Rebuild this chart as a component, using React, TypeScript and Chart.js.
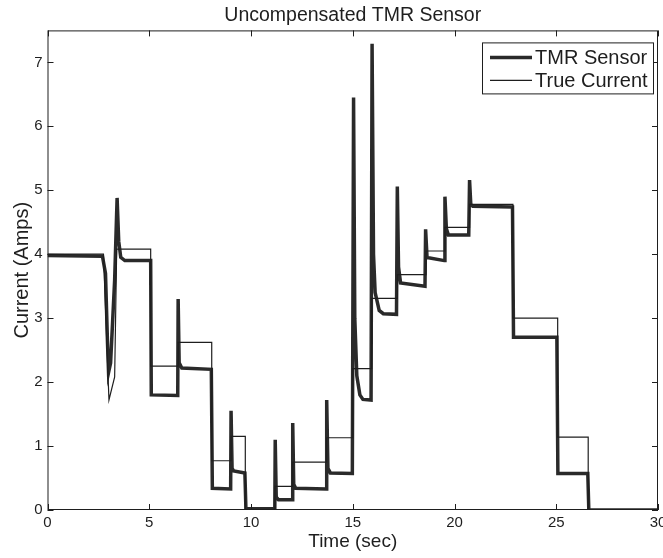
import React, { useEffect, useRef } from "react";
import { Chart, registerables } from "chart.js";

Chart.register(...registerables);

const chartTitle = "Uncompensated TMR Sensor";
const xTitle = "Time (sec)";
const yTitle = "Current (Amps)";
const seriesLabels = ["TMR Sensor", "True Current"];

const xTicks = [0, 5, 10, 15, 20, 25, 30];
const yTicks = [0, 1, 2, 3, 4, 5, 6, 7];

// TMR sensor output (seconds, amps)
const tmrTime = [
  0, 2.7, 2.85, 2.95, 3.0, 3.1, 3.3, 3.42, 3.5, 3.6, 3.8, 5.07,
  5.1, 6.4, 6.42, 6.47, 6.6, 8.05,
  8.1, 9.0, 9.02, 9.07, 9.15, 9.7,
  9.75, 11.17, 11.19, 11.24, 11.35, 12.03,
  12.05, 12.1, 12.2, 13.7, 13.72, 13.78, 13.9, 14.98,
  15.04, 15.1, 15.2, 15.35, 15.5, 15.9,
  15.95, 16.02, 16.1, 16.3, 16.5, 17.15,
  17.19, 17.25, 17.35, 18.55, 18.58, 18.65, 19.5,
  19.53, 19.6, 19.7, 20.7, 20.74, 20.8, 20.9, 22.85,
  22.9, 25.03, 25.08, 26.55, 26.6, 30,
];
const tmrCurrent = [
  3.98, 3.97, 3.7, 2.6, 2.15, 2.3, 3.6, 4.88, 4.2, 3.95, 3.9, 3.9,
  1.8, 1.79, 3.3, 2.3, 2.22, 2.2,
  0.34, 0.33, 1.55, 0.65, 0.61, 0.58,
  0.02, 0.02, 1.1, 0.2, 0.16, 0.16,
  1.36, 0.4, 0.34, 0.33, 1.72, 0.65, 0.58, 0.57,
  6.45, 3.0, 2.1, 1.8, 1.73, 1.72,
  7.29, 4.0, 3.4, 3.12, 3.07, 3.06,
  5.06, 3.8, 3.55, 3.5, 4.39, 3.95, 3.9,
  4.9, 4.4, 4.3, 4.3, 5.16, 4.78, 4.75, 4.74,
  2.7, 2.7, 0.57, 0.57, 0.0, 0.0,
];

// True current (seconds, amps)
const trueTime = [
  0, 2.75, 3.02, 3.3, 3.4, 5.07, 5.07, 6.42, 6.42, 8.07, 8.07, 9.02, 9.02,
  9.72, 9.72, 11.18, 11.18, 12.05, 12.05, 13.72, 13.72, 15.0, 15.0, 15.93,
  15.93, 17.19, 17.19, 18.6, 18.6, 19.53, 19.53, 20.74, 20.74, 22.87, 22.87,
  25.07, 25.07, 26.57, 26.57, 30,
];
const trueCurrent = [
  4.0, 4.0, 1.72, 2.08, 4.08, 4.08, 2.25, 2.25, 2.62, 2.62, 0.77, 0.77, 1.15,
  1.15, 0.0, 0.0, 0.37, 0.37, 0.75, 0.75, 1.13, 1.13, 2.21, 2.21,
  3.31, 3.31, 3.68, 3.68, 4.05, 4.05, 4.42, 4.42, 4.78, 4.78, 3.0,
  3.0, 1.14, 1.14, 0.0, 0.0,
];

const INK = "#1e1e1e";
const FONT = "'Liberation Sans', Arial, Helvetica, sans-serif";

const framePlugin = {
  id: "matlabFrame",
  afterDatasetsDraw(chart: any) {
    const { ctx, chartArea: a, scales } = chart;
    ctx.save();
    ctx.strokeStyle = INK;
    ctx.lineWidth = 1;
    ctx.strokeRect(a.left + 0.5, a.top + 0.5, a.right - a.left - 1, a.bottom - a.top - 1);
    const tl = 6;
    ctx.beginPath();
    for (const v of xTicks) {
      const px = Math.round(scales.x.getPixelForValue(v)) + 0.5;
      ctx.moveTo(px, a.bottom);
      ctx.lineTo(px, a.bottom - tl);
      ctx.moveTo(px, a.top);
      ctx.lineTo(px, a.top + tl);
    }
    for (const v of yTicks) {
      const py = Math.round(scales.y.getPixelForValue(v)) + 0.5;
      ctx.moveTo(a.left, py);
      ctx.lineTo(a.left + tl, py);
      ctx.moveTo(a.right, py);
      ctx.lineTo(a.right - tl, py);
    }
    ctx.stroke();

    // legend box
    const bw = 171;
    const bh = 51;
    const bx = a.right - 5 - bw;
    const by = a.top + 12;
    ctx.fillStyle = "#fff";
    ctx.fillRect(bx, by, bw, bh);
    ctx.strokeRect(bx + 0.5, by + 0.5, bw, bh);
    const ds = chart.data.datasets;
    const rows = [ds[0], ds[1]];
    rows.forEach((d: any, i: number) => {
      const cy = by + 15 + i * 23;
      ctx.beginPath();
      ctx.strokeStyle = d.borderColor;
      ctx.lineWidth = d.borderWidth;
      ctx.moveTo(bx + 8, cy);
      ctx.lineTo(bx + 50, cy);
      ctx.stroke();
      ctx.fillStyle = INK;
      ctx.font = `20px ${FONT}`;
      ctx.textAlign = "left";
      ctx.textBaseline = "middle";
      ctx.fillText(d.label, bx + 53, cy + 1);
    });
    ctx.restore();
  },
};

export default function App() {
  const ref = useRef<HTMLCanvasElement | null>(null);

  useEffect(() => {
    if (!ref.current) return;
    const chart = new Chart(ref.current, {
      type: "line",
      data: {
        datasets: [
          {
            label: seriesLabels[0],
            data: tmrTime.map((t, i) => ({ x: t, y: tmrCurrent[i] })),
            borderColor: "#2a2a2a",
            borderWidth: 3.5,
            pointRadius: 0,
            tension: 0,
            fill: false,
            order: 1,
          },
          {
            label: seriesLabels[1],
            data: trueTime.map((t, i) => ({ x: t, y: trueCurrent[i] })),
            borderColor: INK,
            borderWidth: 1.2,
            pointRadius: 0,
            tension: 0,
            fill: false,
            order: 0,
          },
        ],
      },
      options: {
        animation: false,
        responsive: false,
        devicePixelRatio: 1,
        layout: { padding: { left: 0, right: 5, top: 0, bottom: 0 } },
        plugins: {
          legend: { display: false },
          tooltip: { enabled: false },
          title: {
            display: true,
            fullSize: false,
            text: chartTitle,
            color: INK,
            font: { family: FONT, size: 19.5, weight: "normal" },
            padding: { top: 4, bottom: 3 },
          },
        },
        scales: {
          x: {
            type: "linear",
            min: 0,
            max: 30,
            grid: { display: false, drawTicks: false },
            border: { display: false },
            ticks: {
              stepSize: 5,
              color: INK,
              padding: 4,
              font: { family: FONT, size: 15 },
            },
            title: {
              display: true,
              text: xTitle,
              color: INK,
              font: { family: FONT, size: 19 },
              padding: { top: 0, bottom: 5 },
            },
            afterFit: (s: any) => {
              s.height = 48;
              s.paddingRight = 0;
              s.paddingLeft = 0;
            },
          },
          y: {
            type: "linear",
            min: 0,
            max: 7.5,
            grid: { display: false, drawTicks: false },
            border: { display: false },
            ticks: {
              stepSize: 1,
              includeBounds: false,
              color: INK,
              padding: 5,
              font: { family: FONT, size: 15 },
            },
            title: {
              display: true,
              text: yTitle,
              color: INK,
              font: { family: FONT, size: 20 },
              padding: { top: 10, bottom: 0 },
            },
            afterFit: (s: any) => {
              s.width = 47.5;
              s.paddingTop = 0;
              s.paddingBottom = 0;
            },
          },
        },
      },
      plugins: [framePlugin],
    });
    return () => chart.destroy();
  }, []);

  return (
    <div
      style={{
        position: "fixed",
        left: 0,
        top: 0,
        width: 663,
        height: 558,
        background: "#fff",
      }}
    >
      <canvas ref={ref} width={663} height={558} />
    </div>
  );
}
